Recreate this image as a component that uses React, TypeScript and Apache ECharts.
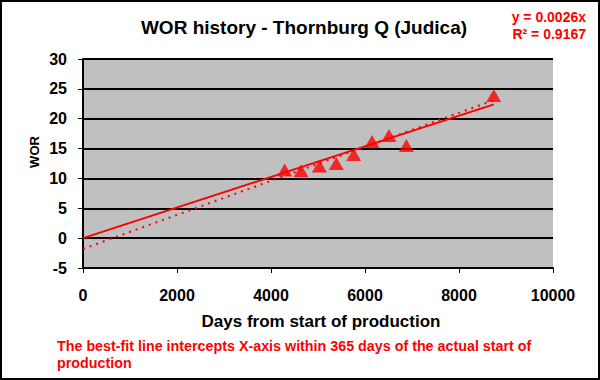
import React, { useEffect, useRef } from "react";
import * as echarts from "echarts";

const daysX = [4290, 4640, 5030, 5390, 5760, 6150, 6510, 6880, 8740];
const worY = [11.4, 11.3, 12.1, 12.5, 14.0, 16.2, 17.2, 15.5, 23.9];
const fitX = [0, 8740];
const fitY = [0, 22.4];
const trendX = [0, 8740];
const trendY = [-1.8, 23.1];
const xTicks = [0, 2000, 4000, 6000, 8000, 10000];
const yTicks = [-5, 0, 5, 10, 15, 20, 25, 30];

const FONT = "'Liberation Sans', Arial, sans-serif";

export default function App() {
  const ref = useRef<HTMLDivElement>(null);
  useEffect(() => {
    document.body.style.margin = "0";
    const chart = echarts.init(ref.current!, null, { renderer: "svg" });
    const zip = (xs: number[], ys: number[]) => xs.map((x, i) => [x, ys[i]]);
    chart.setOption({
      animation: false,
      backgroundColor: "#ffffff",
      textStyle: { fontFamily: FONT },
      grid: {
        left: 83,
        right: 47,
        top: 59,
        bottom: 112,
        show: true,
        backgroundColor: "#C0C0C0",
        borderWidth: 0,
      },
      xAxis: {
        type: "value",
        min: xTicks[0],
        max: xTicks[xTicks.length - 1],
        interval: 2000,
        axisLine: { show: true, onZero: false, lineStyle: { color: "#000", width: 2 } },
        axisTick: { show: true, inside: false, length: 5, lineStyle: { color: "#000", width: 1 } },
        axisLabel: {
          color: "#000",
          fontSize: 16,
          fontWeight: "bold",
          margin: 19,
          fontFamily: FONT,
          formatter: (v: number) => String(v),
        },
        splitLine: { show: false },
      },
      yAxis: {
        type: "value",
        min: yTicks[0],
        max: yTicks[yTicks.length - 1],
        interval: 5,
        axisLine: { show: true, onZero: false, lineStyle: { color: "#000", width: 2 } },
        axisTick: { show: true, inside: false, length: 5, lineStyle: { color: "#000", width: 1 } },
        axisLabel: {
          color: "#000",
          fontSize: 16,
          fontWeight: "bold",
          margin: 16,
          fontFamily: FONT,
          formatter: (v: number) => String(v),
        },
        splitLine: { show: true, lineStyle: { color: "#000", width: 2 } },
      },
      series: [
        {
          type: "line",
          data: zip(fitX, fitY),
          showSymbol: false,
          symbol: "none",
          lineStyle: { color: "#FF0000", width: 2 },
          z: 3,
        },
        {
          type: "line",
          data: zip(trendX, trendY),
          showSymbol: false,
          symbol: "none",
          lineStyle: { color: "#FF0000", width: 2, type: [2, 5] },
          z: 3,
        },
        {
          type: "scatter",
          data: zip(daysX, worY),
          symbol: "triangle",
          symbolSize: [15, 13],
          itemStyle: { color: "#FF0000" },
          z: 4,
        },
      ],
      graphic: [
        {
          type: "rect",
          shape: { x: 1, y: 1, width: 598, height: 378 },
          style: { fill: "none", stroke: "#000", lineWidth: 2 },
          silent: true,
        },
        {
          type: "text",
          x: 304,
          y: 27,
          style: {
            text: "WOR history - Thornburg Q (Judica)",
            fill: "#000",
            font: `bold 19px ${FONT}`,
            textAlign: "center",
            textVerticalAlign: "middle",
          },
        },
        {
          type: "text",
          x: 586,
          y: 17,
          style: {
            text: "y = 0.0026x",
            fill: "#FF0000",
            font: `bold 14px ${FONT}`,
            textAlign: "right",
            textVerticalAlign: "middle",
          },
        },
        {
          type: "text",
          x: 586,
          y: 34,
          style: {
            text: "R² = 0.9167",
            fill: "#FF0000",
            font: `bold 14px ${FONT}`,
            textAlign: "right",
            textVerticalAlign: "middle",
          },
        },
        {
          type: "text",
          x: 34,
          y: 152,
          rotation: Math.PI / 2,
          style: {
            text: "WOR",
            fill: "#000",
            font: `bold 13px ${FONT}`,
            textAlign: "center",
            textVerticalAlign: "middle",
          },
        },
        {
          type: "text",
          x: 321,
          y: 321,
          style: {
            text: "Days from start of production",
            fill: "#000",
            font: `bold 17px ${FONT}`,
            textAlign: "center",
            textVerticalAlign: "middle",
          },
        },
        {
          type: "text",
          x: 57,
          y: 346,
          style: {
            text: "The best-fit line intercepts X-axis within 365 days of the actual start of",
            fill: "#FF0000",
            font: `bold 14.3px ${FONT}`,
            textAlign: "left",
            textVerticalAlign: "middle",
          },
        },
        {
          type: "text",
          x: 57,
          y: 363,
          style: {
            text: "production",
            fill: "#FF0000",
            font: `bold 14.3px ${FONT}`,
            textAlign: "left",
            textVerticalAlign: "middle",
          },
        },
      ],
    });
    return () => chart.dispose();
  }, []);
  return <div ref={ref} style={{ width: 600, height: 380 }} />;
}
